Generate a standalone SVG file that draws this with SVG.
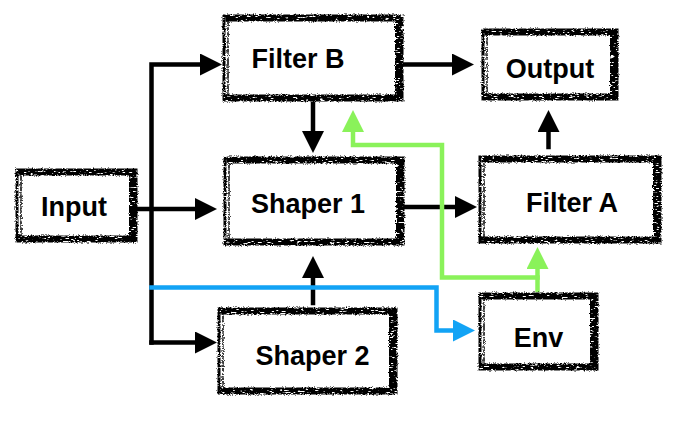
<svg xmlns="http://www.w3.org/2000/svg" width="692" height="428" viewBox="0 0 692 428">
<style>
.lbl{font-family:"Liberation Sans",Arial,sans-serif;font-weight:bold;font-size:27px;fill:#000;text-anchor:middle}
.bx{fill:none;stroke:#000;stroke-linecap:square}
.th{stroke-width:3}
.hv{stroke-width:5}
.hx{stroke-width:6}
.sc{stroke-width:1.5;stroke-dasharray:6 2 3 2}
.ln{fill:none;stroke-width:4.5;stroke-linejoin:miter;stroke-linecap:square}
.k{stroke:#000;marker-end:url(#ak)}
.b{stroke:#12A3F5;marker-end:url(#ab)}
.g{stroke:#8AF25A;marker-end:url(#ag)}
</style>
<defs>
<filter id="rough" x="-5%" y="-10%" width="110%" height="120%">
<feTurbulence type="fractalNoise" baseFrequency="0.9" numOctaves="2" seed="4" result="n"/>
<feDisplacementMap in="SourceGraphic" in2="n" scale="3.5" xChannelSelector="R" yChannelSelector="G" result="d"/>
<feTurbulence type="fractalNoise" baseFrequency="0.2 1.2" numOctaves="2" seed="11" result="n2"/>
<feColorMatrix in="n2" type="matrix" values="0 0 0 0 0  0 0 0 0 0  0 0 0 0 0  -10 0 0 0 7.2" result="m"/>
<feComposite in="d" in2="m" operator="in"/>
</filter>
<marker id="ak" markerUnits="userSpaceOnUse" markerWidth="22" markerHeight="22" refX="0" refY="11" orient="auto"><path d="M0,0 L22,11 L0,22 z" fill="#000"/></marker>
<marker id="ab" markerUnits="userSpaceOnUse" markerWidth="22" markerHeight="22" refX="0" refY="11" orient="auto"><path d="M0,0 L22,11 L0,22 z" fill="#12A3F5"/></marker>
<marker id="ag" markerUnits="userSpaceOnUse" markerWidth="22" markerHeight="22" refX="0" refY="11" orient="auto"><path d="M0,0 L22,11 L0,22 z" fill="#8AF25A"/></marker>
</defs>
<rect width="692" height="428" fill="#fff"/>

<g id="connectors">
<path class="ln k" d="M138 209 H195"/>
<path class="ln k" d="M151.5 342.5 V64.5 H200"/>
<path class="ln k" d="M151.5 342.5 H195"/>
<path class="ln k" d="M313 104 V131"/>
<path class="ln k" d="M313 303 V278"/>
<path class="ln k" d="M405 64.5 H452"/>
<path class="ln k" d="M406 207 H455"/>
<path class="ln k" d="M548.5 147 V132"/>
<path class="ln b" d="M151.5 287.5 H436.5 V330.5 H453"/>
<path class="ln g" d="M537.5 290 V269"/>
<path class="ln g" d="M537.5 277.5 H442 V145 H353 V132"/>
</g>

<g id="node-filter-b">
<g filter="url(#rough)">
<rect class="bx th" x="224" y="16" width="178" height="84"/>
<path class="bx hv" d="M228 19 H399"/>
<path class="bx hx" d="M398 18 V98"/>
<path class="bx hv" d="M226 97 H400"/>
<path class="bx sc" d="M228 20 V96"/>
</g>
<text class="lbl" x="298" y="68">Filter B</text>
</g>

<g id="node-output">
<g filter="url(#rough)">
<rect class="bx th" x="483" y="30" width="134" height="69"/>
<path class="bx hv" d="M487 33 H613"/>
<path class="bx hx" d="M613 32 V97"/>
<path class="bx hv" d="M485 96 H614"/>
<path class="bx sc" d="M487 34 V95"/>
</g>
<text class="lbl" x="550" y="78">Output</text>
</g>

<g id="node-input">
<g filter="url(#rough)">
<rect class="bx th" x="17" y="170" width="119" height="71"/>
<path class="bx hv" d="M21 173 H132"/>
<path class="bx hx" d="M132 172 V239"/>
<path class="bx hv" d="M19 238 H133"/>
<path class="bx sc" d="M21 174 V237"/>
</g>
<text class="lbl" x="74" y="216">Input</text>
</g>

<g id="node-shaper-1">
<g filter="url(#rough)">
<rect class="bx th" x="225" y="158" width="178" height="86"/>
<path class="bx hv" d="M229 161 H400"/>
<path class="bx hx" d="M399 160 V242"/>
<path class="bx hv" d="M227 241 H401"/>
<path class="bx sc" d="M229 162 V240"/>
</g>
<text class="lbl" x="308" y="213">Shaper 1</text>
</g>

<g id="node-filter-a">
<g filter="url(#rough)">
<rect class="bx th" x="480" y="157" width="180" height="85"/>
<path class="bx hv" d="M484 160 H656"/>
<path class="bx hx" d="M656 159 V240"/>
<path class="bx hv" d="M482 239 H657"/>
<path class="bx sc" d="M484 161 V238"/>
</g>
<text class="lbl" x="572" y="212">Filter A</text>
</g>

<g id="node-shaper-2">
<g filter="url(#rough)">
<rect class="bx th" x="219" y="309" width="177" height="84"/>
<path class="bx hv" d="M223 312 H393"/>
<path class="bx hx" d="M392 311 V391"/>
<path class="bx hv" d="M221 390 H394"/>
<path class="bx sc" d="M223 313 V389"/>
</g>
<text class="lbl" x="312.5" y="365">Shaper 2</text>
</g>

<g id="node-env">
<g filter="url(#rough)">
<rect class="bx th" x="480" y="294" width="117" height="75"/>
<path class="bx hv" d="M484 297 H594"/>
<path class="bx hx" d="M593 296 V367"/>
<path class="bx hv" d="M482 366 H595"/>
<path class="bx sc" d="M484 298 V365"/>
</g>
<text class="lbl" x="538.5" y="347">Env</text>
</g>
</svg>
